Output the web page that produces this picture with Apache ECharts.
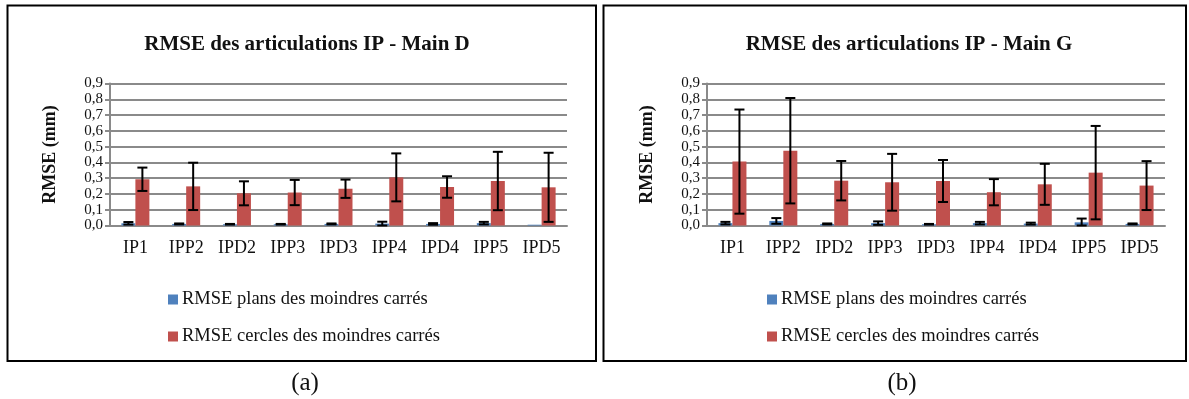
<!DOCTYPE html>
<html><head><meta charset="utf-8">
<script src="https://cdn.jsdelivr.net/npm/echarts@6/dist/echarts.min.js"></script>
<style>html,body{margin:0;padding:0;background:#fff}#c{width:1189px;height:399px}</style>
</head><body><div id="c"></div>
<script>
const categories = ['IP1','IPP2','IPD2','IPP3','IPD3','IPP4','IPD4','IPP5','IPD5'];
const seriesNames = ['RMSE plans des moindres carrés','RMSE cercles des moindres carrés'];
const titles = ['RMSE des articulations IP - Main D','RMSE des articulations IP - Main G'];
const panelLabels = ['(a)','(b)'];
const yTicks = [0,0.1,0.2,0.3,0.4,0.5,0.6,0.7,0.8,0.9];

// Main D
const planD = [0.014,0.010,0.008,0.008,0.010,0.012,0.010,0.015,0.005];
const planDErr = [0.008,0.003,0.002,0.002,0.003,0.012,0.005,0.008,0];
const cercleD = [0.293,0.248,0.204,0.209,0.233,0.305,0.244,0.282,0.242];
const cercleDErr = [0.074,0.150,0.076,0.080,0.058,0.152,0.068,0.185,0.219];
// Main G
const planG = [0.015,0.029,0.010,0.015,0.008,0.015,0.012,0.020,0.010];
const planGErr = [0.008,0.018,0.003,0.011,0.002,0.008,0.006,0.024,0.003];
const cercleG = [0.405,0.474,0.284,0.274,0.282,0.211,0.261,0.335,0.253];
const cercleGErr = [0.330,0.334,0.125,0.180,0.133,0.083,0.130,0.296,0.155];

const FONT = '"Liberation Serif","Times New Roman",serif';
const BAR_W = 14;
const BLUE = '#4F81BD', RED = '#C0504D';

function errRender(sign){
  return function(params, api){
    const i = api.value(0), v = api.value(1), e = api.value(2);
    if (!(e > 0)) return null;
    const hi = api.coord([i, v + e]);
    const lo = api.coord([i, Math.max(v - e, 0)]);
    const x = hi[0] + sign * BAR_W / 2;
    const cap = 5;
    const st = {stroke:'#000', lineWidth:2};
    return {type:'group', children:[
      {type:'line', shape:{x1:x,y1:hi[1],x2:x,y2:lo[1]}, style:st},
      {type:'line', shape:{x1:x-cap,y1:hi[1],x2:x+cap,y2:hi[1]}, style:st},
      {type:'line', shape:{x1:x-cap,y1:lo[1],x2:x+cap,y2:lo[1]}, style:st}
    ]};
  };
}
function errData(vals, errs){ return vals.map((v,i)=>[i, v, errs[i]]); }

const grids = [
  {left:110, right:622, top:83.5, bottom:173.5},
  {left:707, right:24, top:83.5, bottom:173.5}
];
const xAxes = grids.map((g,k)=>({
  type:'category', gridIndex:k, data:categories,
  axisLine:{lineStyle:{color:'#8a8a8a', width:2}},
  axisTick:{length:5, lineStyle:{color:'#8a8a8a', width:2}},
  axisLabel:{color:'#111', fontFamily:FONT, fontSize:18, margin:14}
}));
const yAxes = grids.map((g,k)=>({
  type:'value', gridIndex:k, min:0, max:0.9, interval:0.1,
  name:'RMSE (mm)', nameLocation:'middle', nameGap:51,
  nameTextStyle:{fontFamily:FONT, fontWeight:'bold', fontSize:18, color:'#111'},
  axisLine:{show:true, lineStyle:{color:'#8a8a8a', width:2}},
  axisTick:{show:true, length:5, lineStyle:{color:'#8a8a8a', width:2}},
  axisLabel:{color:'#111', fontFamily:FONT, fontSize:15, lineHeight:15, margin:7,
    showMinLabel:true, showMaxLabel:true, hideOverlap:false,
    formatter:v=>{const t=yTicks.find(x=>Math.abs(x-v)<1e-9); return (t===undefined?v:t).toFixed(1).replace('.',',');}},
  splitLine:{show:true, lineStyle:{color:'#8a8a8a', width:2}}
}));

const sets = [[planD,planDErr,cercleD,cercleDErr],[planG,planGErr,cercleG,cercleGErr]];
const series = [];
sets.forEach((s,k)=>{
  series.push({name:seriesNames[0], type:'bar', xAxisIndex:k, yAxisIndex:k, data:s[0], barWidth:BAR_W, barGap:'0%', itemStyle:{color:BLUE}});
  series.push({name:seriesNames[1], type:'bar', xAxisIndex:k, yAxisIndex:k, data:s[2], barWidth:BAR_W, barGap:'0%', itemStyle:{color:RED}});
  series.push({type:'custom', xAxisIndex:k, yAxisIndex:k, renderItem:errRender(-1), data:errData(s[0],s[1]), z:5});
  series.push({type:'custom', xAxisIndex:k, yAxisIndex:k, renderItem:errRender(1), data:errData(s[2],s[3]), z:5});
});

const chart = echarts.init(document.getElementById('c'), null, {renderer:'canvas'});
chart.setOption({
  animation:false,
  backgroundColor:'#fff',
  title:[
    {text:titles[0], left:302, top:29, textAlign:'center', textStyle:{fontFamily:FONT, fontWeight:'bold', fontSize:21, color:'#111'}},
    {text:titles[1], left:904, top:29, textAlign:'center', textStyle:{fontFamily:FONT, fontWeight:'bold', fontSize:21, color:'#111'}},
    {text:panelLabels[0], left:300, top:366, textAlign:'center', textStyle:{fontFamily:FONT, fontWeight:'normal', fontSize:25, color:'#111'}},
    {text:panelLabels[1], left:897, top:366, textAlign:'center', textStyle:{fontFamily:FONT, fontWeight:'normal', fontSize:25, color:'#111'}}
  ],
  legend:[
    {orient:'vertical', left:163, top:285, itemGap:18, itemWidth:10, itemHeight:10, icon:'rect', data:seriesNames,
     textStyle:{fontFamily:FONT, fontSize:18.5, color:'#111', padding:[0,0,0,-1]}},
    {orient:'vertical', left:762, top:285, itemGap:18, itemWidth:10, itemHeight:10, icon:'rect', data:seriesNames,
     textStyle:{fontFamily:FONT, fontSize:18.5, color:'#111', padding:[0,0,0,-1]}}
  ],
  grid:grids,
  xAxis:xAxes,
  yAxis:yAxes,
  series:series,
  graphic:[
    {type:'rect', shape:{x:7.5, y:5.5, width:588.5, height:355.5}, style:{fill:'none', stroke:'#000', lineWidth:2}, z:-1},
    {type:'rect', shape:{x:603.5, y:5.5, width:582.5, height:355.5}, style:{fill:'none', stroke:'#000', lineWidth:2}, z:-1}
  ]
});
</script></body></html>
